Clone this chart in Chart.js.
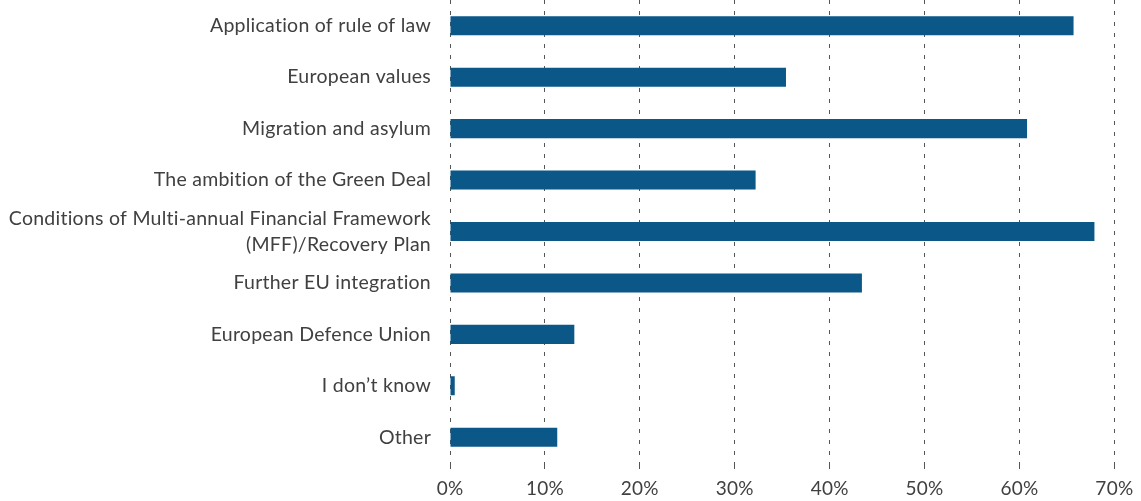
<!DOCTYPE html>
<html>
<head>
<meta charset="utf-8">
<script src="https://cdn.jsdelivr.net/npm/chart.js@4.4.1/dist/chart.umd.min.js"></script>
<style>
html,body{margin:0;padding:0;background:#fff;}
#wrap{width:1141px;height:501px;position:relative;}
</style>
</head>
<body>
<div id="wrap"><canvas id="c"></canvas></div>
<script>
const categories = [
  'Application of rule of law',
  'European values',
  'Migration and asylum',
  'The ambition of the Green Deal',
  ['Conditions of Multi-annual Financial Framework', '(MFF)/Recovery Plan'],
  'Further EU integration',
  'European Defence Union',
  'I don\u2019t know',
  'Other'
];
const values = [65.7, 35.4, 60.8, 32.2, 67.9, 43.4, 13.1, 0.5, 11.3];
const xTicks = [0, 10, 20, 30, 40, 50, 60, 70];

new Chart(document.getElementById('c'), {
  type: 'bar',
  data: {
    labels: categories,
    datasets: [{
      data: values,
      backgroundColor: '#0b5788',
      borderWidth: 0,
      barPercentage: 0.37,
      categoryPercentage: 1.0
    }]
  },
  options: {
    indexAxis: 'y',
    responsive: true,
    maintainAspectRatio: false,
    animation: false,
    layout: { padding: { left: 0, right: 4, top: 0, bottom: 0 } },
    plugins: { legend: { display: false }, tooltip: { enabled: false } },
    scales: {
      x: {
        min: 0, max: 70,
        afterBuildTicks: (s) => { s.ticks = xTicks.map(v => ({ value: v })); },
        grid: { color: '#555', lineWidth: 1, tickLength: 6, drawTicks: true },
        border: { display: false, dash: [4, 7] },
        ticks: {
          callback: (v) => v + '%',
          color: '#404040',
          font: { family: 'Lato', size: 19 },
          padding: 8,
          maxRotation: 0
        },
        afterFit: (s) => { s.height = 38; }
      },
      y: {
        grid: { display: false },
        border: { display: false },
        ticks: {
          color: '#404040',
          font: { family: 'Lato', size: 19.5, lineHeight: 1.36 },
          padding: 11,
          autoSkip: false
        },
        afterFit: (s) => { s.width = 450; s.paddingTop = 0; s.paddingBottom = 0; }
      }
    }
  },
  plugins: [{
    id: 'spacing',
    beforeDraw(chart) { chart.ctx.letterSpacing = '0.25px'; }
  }]
});
</script>
</body>
</html>
